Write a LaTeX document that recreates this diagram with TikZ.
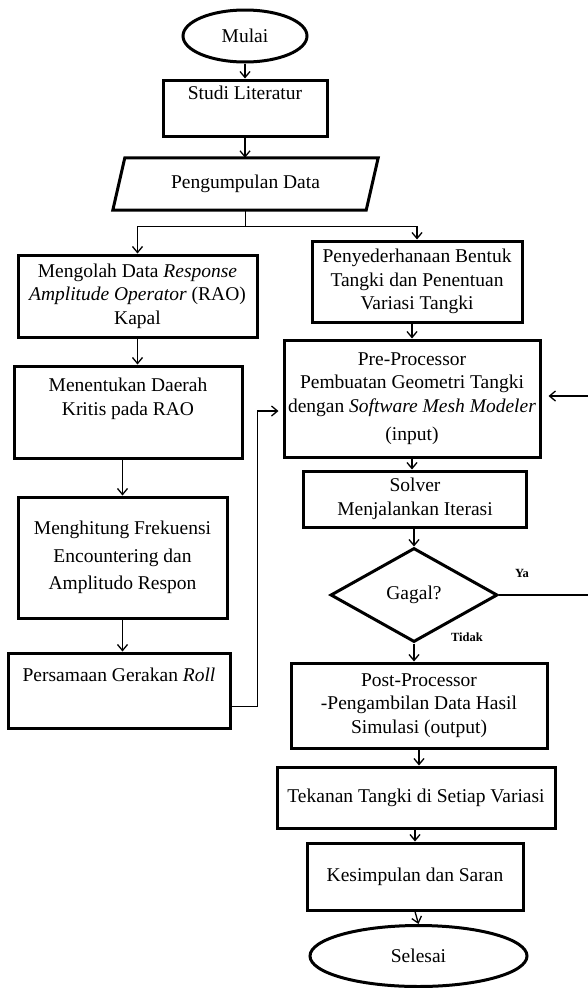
\documentclass[tikz,border=0pt]{standalone}
\usepackage{fontspec}
\setmainfont{Liberation Serif}
\usetikzlibrary{shapes.geometric,arrows.meta,calc}
\newcommand\boxfont{\fontsize{19.5}{23.5}\selectfont}
\newcommand\lblfont{\fontsize{12.5}{14}\selectfont\bfseries}
\tikzset{
  box/.style={draw, line width=3pt, rectangle, inner sep=0pt, align=center, font=\boxfont},
  term/.style={draw, line width=3pt, ellipse, inner sep=0pt, font=\boxfont},
  decide/.style={draw, line width=3pt, diamond, inner sep=0pt, font=\boxfont},
  conn/.style={line width=1.3pt},
  arr/.style={conn, -{Straight Barb[length=6pt,width=10pt]}},
  lbl/.style={inner sep=0pt, font=\lblfont},
}
\begin{document}
\begin{tikzpicture}[x=1pt,y=-1pt]
\useasboundingbox (0,0) rectangle (587,988);
\fill[white] (0,0) rectangle (587,988);

\node[term, minimum width=124pt, minimum height=52pt] (mulai) at (245,36) {Mulai};
\node[box, minimum width=164pt, minimum height=56pt] (studi) at (245,108) {Studi Literatur\\ \strut};
\node[rectangle, inner sep=0pt, minimum width=253pt, minimum height=52pt, font=\boxfont] (pd) at (245.5,184) {Pengumpulan Data};
\draw[line width=3pt] ([xshift=6pt]pd.north west) -- ([xshift=6pt]pd.north east) -- ([xshift=-6pt]pd.south east) -- ([xshift=-6pt]pd.south west) -- cycle;

\node[box, minimum width=239pt, minimum height=82pt] (lb1) at (137.5,296) {Mengolah Data \textit{Response}\\\textit{Amplitude Operator} (RAO)\\Kapal};
\node[box, minimum width=228pt, minimum height=92pt] (lb2) at (128,412) {Menentukan Daerah\\Kritis pada RAO\\ \strut};
\node[box, minimum width=209pt, minimum height=121pt] (lb3) at (122.5,557.5) {Menghitung Frekuensi\\[4pt]Encountering dan\\[4pt]Amplitudo Respon};
\node[box, minimum width=222pt, minimum height=75pt] (lb4) at (119,690.5) {Persamaan Gerakan \textit{Roll}\\ \strut};

\node[box, minimum width=210pt, minimum height=81pt] (rb1) at (417,281.5) {Penyederhanaan Bentuk\\Tangki dan Penentuan\\Variasi Tangki};
\node[box, minimum width=256pt, minimum height=117pt] (pre) at (412,398.5) {Pre-Processor\\Pembuatan Geometri Tangki\\dengan \textit{Software Mesh Modeler}\\[5pt](input)};
\node[box, minimum width=223pt, minimum height=56pt] (solver) at (415,499) {Solver\\Menjalankan Iterasi};
\node[decide, minimum width=167pt, minimum height=94pt] (gagal) at (414,595) {Gagal?};
\node[box, minimum width=256pt, minimum height=85pt] (post) at (419,705.5) {Post-Processor\\-Pengambilan Data Hasil\\Simulasi (output)};
\node[box, minimum width=278pt, minimum height=61pt] (tekanan) at (416,797.5) {Tekanan Tangki di Setiap Variasi};
\node[box, minimum width=216pt, minimum height=67pt] (kesimpulan) at (415,876.5) {Kesimpulan dan Saran};
\node[term, minimum width=217pt, minimum height=61pt] (selesai) at (418.5,956) {Selesai};

\node[lbl] (ya) at (522,573) {Ya};
\node[lbl] (tidak) at (467,637) {Tidak};
\coordinate (rt) at (589,0);

\draw[arr] (mulai.south) -- (studi.north);
\draw[arr] (studi.south) -- (studi.south |- pd.north);
\draw[conn] (pd.south) -- ++(0,16) coordinate (split);
\draw[arr] (split) -| (lb1.north);
\draw[arr] (split) -| (rb1.north);
\draw[arr] (lb1.south) -- (lb1.south |- lb2.north);
\draw[arr] (lb3.north |- lb2.south) -- (lb3.north);
\draw[arr] (lb3.south) -- (lb3.south |- lb4.north);
\draw[arr, shorten >=4pt] ([yshift=-16pt]lb4.east) -- ++(26,0) |- ([yshift=-12.5pt]pre.west);
\draw[arr] (pre.north |- rb1.south) -- (pre.north);
\draw[arr] (pre.south) -- (pre.south |- solver.north);
\draw[arr] (gagal.north |- solver.south) -- (gagal.north);
\draw[arr] (gagal.south) -- (gagal.south |- post.north);
\draw[arr, shorten >=7pt] (gagal.east) -- (gagal.east -| rt) |- ([yshift=2.5pt]pre.east);
\draw[arr] (post.south) -- (post.south |- tekanan.north);
\draw[arr] (kesimpulan.north |- tekanan.south) -- (kesimpulan.north);
\draw[arr] (kesimpulan.south) -- (selesai.north);
\end{tikzpicture}
\end{document}
